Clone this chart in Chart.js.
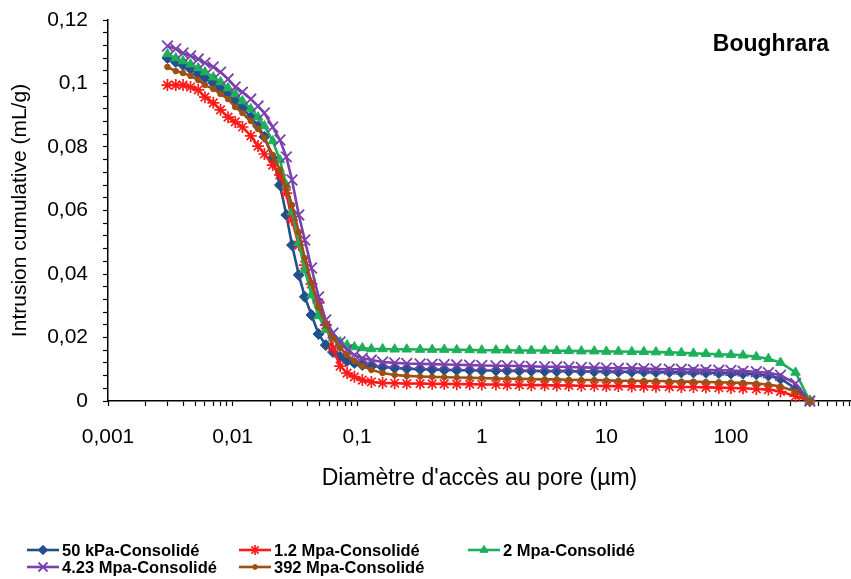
<!DOCTYPE html>
<html><head><meta charset="utf-8">
<script src="https://cdn.jsdelivr.net/npm/chart.js@4.4.1/dist/chart.umd.min.js"></script>
<style>html,body{margin:0;padding:0;background:#fff;overflow:hidden}#wrap{width:851px;height:579px;position:relative}</style>
</head><body><div id="wrap"><canvas id="c" width="851" height="579"></canvas></div>
<script>
// ---- data ----
const diameters = [0.003,0.0035,0.004,0.0046,0.0053,0.006,0.007,0.008,0.0092,0.0105,0.012,0.014,0.016,0.018,0.021,0.024,0.027,0.030,0.034,0.038,0.043,0.049,0.056,0.064,0.073,0.083,0.095,0.11,0.13,0.16,
  0.2,0.25,0.32,0.4,0.5,0.63,0.8,1.0,1.3,1.6,2.0,2.5,3.2,4.0,5.0,6.3,8.0,10,12.5,16,20,25,32,40,50,63,80,100,125,160,200,250,330,430];
const series50kPa = [0.1080,0.1068,0.1058,0.1046,0.1030,0.1017,0.1002,0.0983,0.0964,0.0945,0.0923,0.0894,0.0866,0.0832,0.0765,0.0680,0.0586,0.0491,0.0397,0.0328,0.0271,0.0211,0.0176,0.0154,0.0139,0.0126,0.0120,0.0113,0.0110,0.0107,
  0.0104,0.0102,0.0100,0.0099,0.0098,0.0097,0.0097,0.0096,0.0096,0.0095,0.0095,0.0095,0.0094,0.0094,0.0094,0.0093,0.0093,0.0093,0.0092,0.0092,0.0092,0.0091,0.0091,0.0090,0.0090,0.0089,0.0088,0.0087,0.0086,0.0084,0.0080,0.0070,0.0040,0];
const series1_2MPa = [0.0995,0.0995,0.0995,0.0989,0.0980,0.0957,0.0939,0.0917,0.0894,0.0879,0.0863,0.0835,0.0803,0.0778,0.0743,0.0712,0.0655,0.0570,0.0491,0.0428,0.0369,0.0309,0.0239,0.0167,0.0110,0.0088,0.0076,0.0066,0.0060,0.0057,
  0.0056,0.0055,0.0055,0.0054,0.0054,0.0053,0.0053,0.0052,0.0052,0.0051,0.0051,0.0050,0.0050,0.0049,0.0049,0.0048,0.0048,0.0047,0.0047,0.0046,0.0046,0.0045,0.0045,0.0044,0.0044,0.0043,0.0042,0.0041,0.0040,0.0038,0.0036,0.0030,0.0015,0];
const series2MPa = [0.1093,0.1080,0.1071,0.1061,0.1049,0.1036,0.1020,0.1005,0.0986,0.0967,0.0945,0.0920,0.0894,0.0866,0.0819,0.0759,0.0680,0.0595,0.0498,0.0413,0.0334,0.0268,0.0224,0.0198,0.0186,0.0176,0.0170,0.0167,0.0164,0.0164,
  0.0163,0.0163,0.0162,0.0162,0.0162,0.0161,0.0161,0.0160,0.0160,0.0160,0.0159,0.0159,0.0159,0.0158,0.0158,0.0157,0.0157,0.0156,0.0156,0.0155,0.0155,0.0154,0.0153,0.0152,0.0150,0.0149,0.0147,0.0146,0.0144,0.0139,0.0133,0.0121,0.0090,0];
const series4_23MPa = [0.1118,0.1109,0.1096,0.1087,0.1077,0.1065,0.1052,0.1036,0.1014,0.0989,0.0973,0.0951,0.0929,0.0907,0.0863,0.0822,0.0769,0.0696,0.0586,0.0507,0.0419,0.0328,0.0255,0.0214,0.0186,0.0161,0.0145,0.0135,0.0129,0.0123,
  0.0120,0.0118,0.0117,0.0116,0.0115,0.0114,0.0113,0.0112,0.0111,0.0111,0.0110,0.0109,0.0108,0.0108,0.0107,0.0106,0.0105,0.0104,0.0103,0.0103,0.0102,0.0101,0.0100,0.0100,0.0099,0.0098,0.0097,0.0096,0.0094,0.0092,0.0089,0.0081,0.0055,0];
const series392MPa = [0.1052,0.1039,0.1033,0.1024,0.1011,0.0995,0.0983,0.0967,0.0951,0.0926,0.0907,0.0882,0.0857,0.0828,0.0775,0.0728,0.0674,0.0617,0.0532,0.0450,0.0372,0.0296,0.0239,0.0198,0.0167,0.0145,0.0126,0.0110,0.0098,0.0088,
  0.0082,0.0079,0.0077,0.0076,0.0075,0.0074,0.0073,0.0072,0.0071,0.0070,0.0070,0.0069,0.0068,0.0068,0.0067,0.0066,0.0066,0.0065,0.0064,0.0064,0.0063,0.0063,0.0062,0.0061,0.0061,0.0060,0.0059,0.0058,0.0057,0.0055,0.0052,0.0046,0.0030,0];
const seriesNames = ['50 kPa-Consolidé','1.2 Mpa-Consolidé','2 Mpa-Consolidé','4.23 Mpa-Consolidé','392 Mpa-Consolidé'];
const xTickValues = [0.001,0.01,0.1,1,10,100];
const xTickLabels = ['0,001','0,01','0,1','1','10','100'];
const yTickValues = [0,0.02,0.04,0.06,0.08,0.1,0.12];
const yTickLabels = ['0','0,02','0,04','0,06','0,08','0,1','0,12'];
const xAxisTitle = "Diamètre d'accès au pore (µm)";
const yAxisTitle = 'Intrusion cumulative (mL/g)';
const siteLabel = 'Boughrara';

// ---- styles ----
const FONT = '"Liberation Sans", Arial, sans-serif';
const styles = [
  {color:'#22508c', pointStyle:'rectRot', radius:5.5, bw:1},
  {color:'#ff1a1a', pointStyle:'star', radius:6, bw:1.7},
  {color:'#1db05a', pointStyle:'triangle', radius:5.5, bw:1},
  {color:'#7b40ad', pointStyle:'crossRot', radius:7.5, bw:1.8},
  {color:'#9e4f14', pointStyle:'circle', radius:2.8, bw:1}
];
const allSeries = [series50kPa, series1_2MPa, series2MPa, series4_23MPa, series392MPa];
const datasets = allSeries.map((s,i)=>({
  label: seriesNames[i],
  data: diameters.map((d,j)=>({x:d, y:s[j]})),
  borderColor: styles[i].color,
  backgroundColor: styles[i].color,
  pointBackgroundColor: styles[i].color,
  pointBorderColor: styles[i].color,
  pointStyle: styles[i].pointStyle,
  pointRadius: styles[i].radius,
  pointBorderWidth: styles[i].bw,
  borderWidth: 2.6,
  tension: 0,
  fill: false,
  clip: false,
  order: 4 - i
}));

const X_MIN = 0.001, X_MAX = 920;
function near(a,b){return Math.abs(a-b) <= Math.abs(b)*1e-6 + 1e-12;}

const legendPlugin = {
  id:'gridLegend',
  afterDraw(chart){
    const ctx = chart.ctx;
    const cols = [27, 239, 468];
    const rows = [550, 567];
    ctx.save();
    chart.data.datasets.forEach((ds,i)=>{
      const st = styles[i];
      const x0 = cols[i%3], y = rows[Math.floor(i/3)];
      ctx.strokeStyle = st.color; ctx.lineWidth = 2.6;
      ctx.beginPath(); ctx.moveTo(x0,y); ctx.lineTo(x0+32,y); ctx.stroke();
      ctx.fillStyle = st.color; ctx.lineWidth = st.bw;
      Chart.helpers.drawPoint(ctx,{pointStyle:st.pointStyle,rotation:0,radius:st.radius*0.85,borderWidth:st.bw},x0+16,y);
      ctx.fillStyle = '#000';
      ctx.font = 'bold 16.5px ' + FONT;
      ctx.textBaseline = 'middle'; ctx.textAlign = 'left';
      ctx.fillText(ds.label, x0+35, y+1);
    });
    ctx.restore();
  }
};
const labelPlugin = {
  id:'siteLabel',
  afterDraw(chart){
    const ctx = chart.ctx;
    ctx.save();
    ctx.font = 'bold 23px ' + FONT;
    ctx.fillStyle = '#000'; ctx.textAlign='center'; ctx.textBaseline='middle';
    ctx.fillText(siteLabel, 771, 45);
    ctx.restore();
  }
};

new Chart(document.getElementById('c'), {
  type:'line',
  data:{datasets},
  plugins:[legendPlugin, labelPlugin],
  options:{
    responsive:false, animation:false,
    layout:{autoPadding:false, padding:{left:0,right:0,top:20,bottom:0}},
    plugins:{legend:{display:false}, tooltip:{enabled:false}, title:{display:false}},
    scales:{
      x:{
        type:'logarithmic', min:X_MIN, max:X_MAX,
        afterBuildTicks(scale){
          const t=[];
          for(let e=-3;e<=2;e++){for(let k=1;k<=9;k++){const v=+(k*Math.pow(10,e)).toPrecision(6); if(v<=X_MAX) t.push({value:v});}}
          scale.ticks=t;
        },
        afterFit(scale){ scale.height = 178; scale.paddingRight = 0; scale.paddingLeft = 0; },
        ticks:{
          autoSkip:false, maxRotation:0, minRotation:0, padding:19,
          color:'#000', font:{family:FONT, size:21},
          callback(v){ const i = xTickValues.findIndex(t=>near(v,t)); return i>=0 ? xTickLabels[i] : ''; }
        },
        grid:{display:true, drawOnChartArea:false, drawTicks:true, tickLength:5, tickColor:'#000', tickWidth:1.2},
        border:{display:true, color:'#000', width:1.5},
        title:{display:true, text:xAxisTitle, color:'#000', font:{family:FONT, size:23}, padding:{top:0,bottom:87}}
      },
      y:{
        type:'linear', min:0, max:0.12,
        afterBuildTicks(scale){
          const t=[]; for(let i=0;i<=30;i++) t.push({value:+(i*0.004).toFixed(4)});
          scale.ticks=t;
        },
        afterFit(scale){ scale.width = 108; scale.paddingTop = 0; scale.paddingBottom = 0; },
        ticks:{
          autoSkip:false, padding:15, color:'#000', font:{family:FONT, size:21},
          callback(v){ const i = yTickValues.findIndex(t=>near(v,t)); return i>=0 ? yTickLabels[i] : ''; }
        },
        grid:{display:true, drawOnChartArea:false, drawTicks:true, tickLength:5, tickColor:'#000', tickWidth:1.2},
        border:{display:true, color:'#000', width:1.5},
        title:{display:true, text:yAxisTitle, color:'#000', font:{family:FONT, size:21}, padding:{top:8,bottom:0}}
      }
    }
  }
});
</script>
</body></html>
